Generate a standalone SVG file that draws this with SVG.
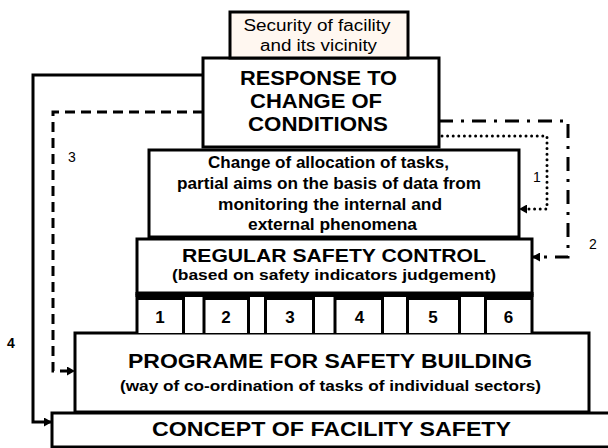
<svg xmlns="http://www.w3.org/2000/svg" width="608" height="448" viewBox="0 0 608 448">
<defs>
<style>
.box{fill:#fff;stroke:#000;stroke-width:3}
.t{font-family:"Liberation Sans",Arial,sans-serif;fill:#000;text-anchor:middle}
.b{font-weight:bold}
.c{fill:none;stroke:#000;stroke-width:3}
.lbl{font-family:"Liberation Sans",Arial,sans-serif;font-size:14px;fill:#000;text-anchor:middle}
</style>
<marker id="ah" markerUnits="userSpaceOnUse" markerWidth="9" markerHeight="9" refX="8" refY="4.5" orient="auto">
<path d="M0,0 L8,4.5 L0,9 z" fill="#000"/>
</marker>
</defs>
<rect width="608" height="448" fill="#fff"/>

<g id="concept">
<rect class="box" x="52" y="413" width="600" height="34"/>
<text class="t b" x="331.5" y="436" font-size="20" textLength="359" lengthAdjust="spacingAndGlyphs">CONCEPT OF FACILITY SAFETY</text>
</g>

<g id="programme">
<rect class="box" x="75" y="333" width="514" height="79"/>
<text class="t b" x="330" y="368" font-size="20" textLength="404" lengthAdjust="spacingAndGlyphs">PROGRAME FOR SAFETY BUILDING</text>
<text class="t b" x="330.5" y="391" font-size="15" textLength="421" lengthAdjust="spacingAndGlyphs">(way of co-ordination of tasks of individual sectors)</text>
</g>

<g id="pillars">
<rect x="137" y="294" width="395" height="39" fill="#fff"/>
<rect x="135.5" y="292" width="398" height="5" fill="#000"/>
<g stroke="#000" stroke-width="3">
<line x1="137" y1="298.5" x2="184" y2="298.5"/>
<line x1="204" y1="298.5" x2="248.5" y2="298.5"/>
<line x1="265.5" y1="298.5" x2="313.5" y2="298.5"/>
<line x1="335" y1="298.5" x2="382.5" y2="298.5"/>
<line x1="407.5" y1="298.5" x2="459.5" y2="298.5"/>
<line x1="485.5" y1="298.5" x2="532" y2="298.5"/>
<line x1="137" y1="294" x2="137" y2="334"/>
<line x1="183.5" y1="294" x2="183.5" y2="334"/>
<line x1="204" y1="294" x2="204" y2="334"/>
<line x1="248.5" y1="294" x2="248.5" y2="334"/>
<line x1="265.5" y1="294" x2="265.5" y2="334"/>
<line x1="313.5" y1="294" x2="313.5" y2="334"/>
<line x1="335" y1="294" x2="335" y2="334"/>
<line x1="382.5" y1="294" x2="382.5" y2="334"/>
<line x1="407.5" y1="294" x2="407.5" y2="334"/>
<line x1="459.5" y1="294" x2="459.5" y2="334"/>
<line x1="485.5" y1="294" x2="485.5" y2="334"/>
<line x1="532" y1="294" x2="532" y2="334"/>
</g>
<g class="t b" font-size="17">
<text class="t b" x="160" y="323">1</text>
<text class="t b" x="226" y="323">2</text>
<text class="t b" x="290" y="323">3</text>
<text class="t b" x="359.5" y="323">4</text>
<text class="t b" x="433" y="323">5</text>
<text class="t b" x="508.5" y="323">6</text>
</g>
</g>

<g id="regular">
<rect class="box" x="137" y="239" width="395" height="54"/>
<text class="t b" x="334" y="262" font-size="18" textLength="304" lengthAdjust="spacingAndGlyphs">REGULAR SAFETY CONTROL</text>
<text class="t b" x="334" y="280" font-size="15" textLength="324" lengthAdjust="spacingAndGlyphs">(based on safety indicators judgement)</text>
</g>

<g id="change">
<rect class="box" x="149" y="150" width="370" height="87"/>
<text class="t b" x="328.5" y="168" font-size="16" textLength="241" lengthAdjust="spacingAndGlyphs">Change of allocation of tasks,</text>
<text class="t b" x="329" y="189" font-size="16" textLength="304" lengthAdjust="spacingAndGlyphs">partial aims on the basis of data from</text>
<text class="t b" x="330" y="210" font-size="16" textLength="224" lengthAdjust="spacingAndGlyphs">monitoring the internal and</text>
<text class="t b" x="332.5" y="230" font-size="16" textLength="169" lengthAdjust="spacingAndGlyphs">external phenomena</text>
</g>

<g id="response">
<rect class="box" x="203" y="58" width="236" height="89"/>
<text class="t b" x="318.5" y="85" font-size="21" textLength="157" lengthAdjust="spacingAndGlyphs">RESPONSE TO</text>
<text class="t b" x="316" y="108" font-size="21" textLength="132" lengthAdjust="spacingAndGlyphs">CHANGE OF</text>
<text class="t b" x="318" y="131" font-size="21" textLength="140" lengthAdjust="spacingAndGlyphs">CONDITIONS</text>
</g>

<g id="security">
<rect x="230" y="12" width="178" height="46" fill="#fff7f0" stroke="#000" stroke-width="3"/>
<text class="t" x="317" y="31" font-size="16" textLength="147" lengthAdjust="spacingAndGlyphs">Security of facility</text>
<text class="t" x="318.5" y="51" font-size="16" textLength="117" lengthAdjust="spacingAndGlyphs">and its vicinity</text>
</g>

<g id="connectors">
<path class="c" d="M203,75 H33 V422 H52" marker-end="url(#ah)"/>
<path class="c" d="M203,112 H53 V371 H75" stroke-dasharray="10 6" marker-end="url(#ah)"/>
<path class="c" d="M442,136 H547 V209 H519" stroke-width="2.8" stroke-linecap="round" stroke-dasharray="0 5.6" marker-end="url(#ah)"/>
<path class="c" d="M439,121 H568 V257 H532" stroke-dasharray="14 8 3 8" marker-end="url(#ah)"/>
<text class="lbl" x="537" y="182">1</text>
<text class="lbl" x="593" y="249">2</text>
<text class="lbl" x="72" y="162">3</text>
<text class="lbl" x="11" y="348" font-weight="bold">4</text>
</g>
</svg>
